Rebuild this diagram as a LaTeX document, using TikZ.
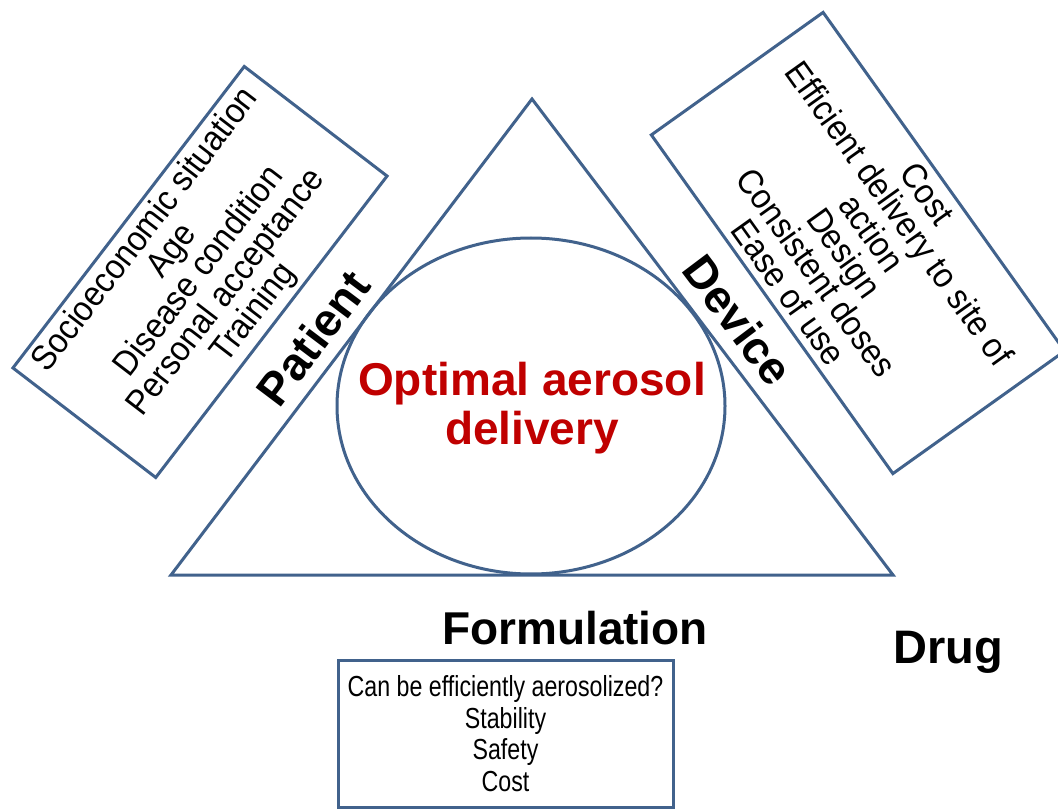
\documentclass[tikz,border=0pt]{standalone}
\usepackage{fontspec}
\usetikzlibrary{shapes.geometric}
\setmainfont{Liberation Sans}
\newfontfamily\narrowfont[FakeStretch=0.8]{Liberation Sans}
\newfontfamily\boxfont[FakeStretch=0.92]{Liberation Sans}
\definecolor{lineblue}{RGB}{65,98,140}
\definecolor{darkred}{RGB}{192,0,0}
\begin{document}
\begin{tikzpicture}[x=1pt,y=-1pt,
  shapeline/.style={draw=lineblue,line width=3pt,line join=miter},
  listbox/.style={shapeline,inner sep=0pt,align=center,font=\boxfont\fontsize{35}{34}\selectfont},
  bigword/.style={font=\fontsize{46}{49}\selectfont\bfseries,inner sep=0pt}]
\useasboundingbox (0,0) rectangle (1058,810);
\fill[white] (0,0) rectangle (1058,810);
% triangle
\coordinate (apex) at (532,99);
\coordinate (bl) at (171,575);
\coordinate (br) at (893,575);
\draw[shapeline] (apex) -- (bl) -- (br) -- cycle;
% ellipse
\node[shapeline,ellipse,minimum width=388,minimum height=336,inner sep=0pt] (circ) at (531,406) {};
\node[align=center,text=darkred,font=\fontsize{46}{49}\selectfont\bfseries] (opt) at (532,408) {Optimal aerosol\\delivery};
% patient box
\node[listbox,rotate=52.5,minimum width=380,minimum height=180] (pbox) at (200,272)
  {Socioeconomic situation\\Age\\Disease condition\\Personal acceptance\\Training};
\node[bigword,rotate=53] (patient) at (313,338) {Patient};
% device box
\node[listbox,rotate=-54.5,minimum width=416,minimum height=211] (dbox) at (858,243)
  {Cost\\Efficient delivery to site of\\action\\Design\\Consistent doses\\Ease of use};
\node[bigword,rotate=-53] (device) at (738,320) {Device};
% formulation
\node[bigword] (form) at (575,628) {Formulation};
\node[bigword,font=\fontsize{47}{49}\selectfont\bfseries] (drug) at (948,652) {Drug};
\node[shapeline,inner sep=0pt,minimum width=335,minimum height=147,align=center,
  font=\narrowfont\fontsize{29}{31.5}\selectfont] (fbox) at (505.5,733.5)
  {Can be efficiently aerosolized?\\Stability\\Safety\\Cost};
\end{tikzpicture}
\end{document}
